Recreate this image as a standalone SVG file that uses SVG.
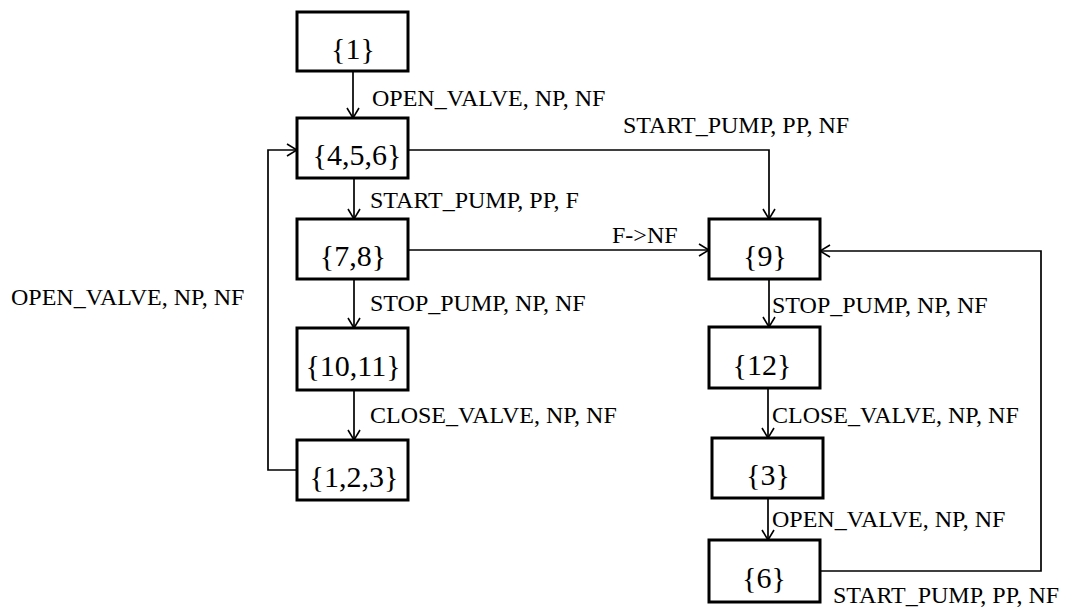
<svg xmlns="http://www.w3.org/2000/svg" width="1070" height="607" viewBox="0 0 1070 607">
<defs>
<marker id="ah" viewBox="0 0 12 14" refX="11" refY="7" markerWidth="12" markerHeight="14" markerUnits="userSpaceOnUse" orient="auto">
<path d="M1,1 L11,7 L1,13" fill="none" stroke="#000" stroke-width="1.6"/>
</marker>
<style>
.box{fill:#fff;stroke:#000;stroke-width:3}
.nt{font-size:30px;text-anchor:middle;fill:#000}
.lb{font-size:24px;fill:#000}
.c{fill:none;stroke:#000;stroke-width:1.7;marker-end:url(#ah)}
</style>
</defs>
<rect width="1070" height="607" fill="#fff"/>
<g id="connectors">
<path class="c" d="M353,71 V118"/>
<path class="c" d="M408,150 H769 V219"/>
<path class="c" d="M354,178 V219"/>
<path class="c" d="M408,250 H709"/>
<path class="c" d="M354,279 V328"/>
<path class="c" d="M354,390 V440"/>
<path class="c" d="M297,470 H268 V150 H297"/>
<path class="c" d="M769,279 V327"/>
<path class="c" d="M768,388 V438"/>
<path class="c" d="M768,498 V540"/>
<path class="c" d="M820,571 H1041 V251 H820"/>
</g>
<g id="labels" font-family="Liberation Serif, Times New Roman, serif">
<text class="lb" x="372" y="106">OPEN_VALVE, NP, NF</text>
<text class="lb" x="623" y="133">START_PUMP, PP, NF</text>
<text class="lb" x="370" y="208">START_PUMP, PP, F</text>
<text class="lb" x="612" y="243">F-&gt;NF</text>
<text class="lb" x="370" y="311">STOP_PUMP, NP, NF</text>
<text class="lb" x="370" y="423">CLOSE_VALVE, NP, NF</text>
<text class="lb" x="11" y="305">OPEN_VALVE, NP, NF</text>
<text class="lb" x="772" y="313">STOP_PUMP, NP, NF</text>
<text class="lb" x="772" y="423">CLOSE_VALVE, NP, NF</text>
<text class="lb" x="772" y="527">OPEN_VALVE, NP, NF</text>
<text class="lb" x="833" y="603">START_PUMP, PP, NF</text>
</g>
<g id="nodes" font-family="Liberation Serif, Times New Roman, serif">
<g id="n1"><rect class="box" x="297" y="12" width="111" height="59"/><text class="nt" x="353" y="59">{1}</text></g>
<g id="n456"><rect class="box" x="297" y="118" width="111" height="60"/><text class="nt" x="357" y="165">{4,5,6}</text></g>
<g id="n78"><rect class="box" x="297" y="219" width="111" height="60"/><text class="nt" x="353" y="266">{7,8}</text></g>
<g id="n1011"><rect class="box" x="297" y="328" width="111" height="62"/><text class="nt" x="353" y="376">{10,11}</text></g>
<g id="n123"><rect class="box" x="297" y="440" width="111" height="60"/><text class="nt" x="354" y="487">{1,2,3}</text></g>
<g id="n9"><rect class="box" x="709" y="219" width="111" height="60"/><text class="nt" x="765" y="266">{9}</text></g>
<g id="n12"><rect class="box" x="709" y="327" width="111" height="61"/><text class="nt" x="762" y="375">{12}</text></g>
<g id="n3"><rect class="box" x="712" y="438" width="111" height="60"/><text class="nt" x="768" y="485">{3}</text></g>
<g id="n6"><rect class="box" x="709" y="540" width="111" height="62"/><text class="nt" x="764" y="588">{6}</text></g>
</g>
</svg>
